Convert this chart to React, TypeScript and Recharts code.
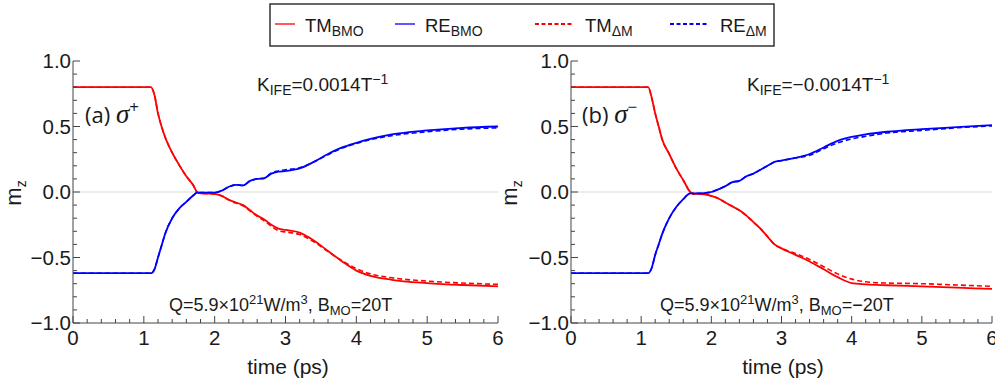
import React from 'react';
import { LineChart, Line, XAxis, YAxis, ReferenceLine } from 'recharts';

const time = [0, 1.0, 1.1, 1.15, 1.2, 1.25, 1.3, 1.4, 1.5, 1.6, 1.7, 1.75, 1.8, 1.9, 2.0, 2.1, 2.2, 2.3, 2.4, 2.5, 2.6, 2.7, 2.8, 2.9, 3.0, 3.2, 3.4, 3.6, 3.8, 4.0, 4.2, 4.5, 5.0, 5.5, 6.0];

// panel (a) sigma+
const aTM_BMO = [0.8, 0.8, 0.8, 0.74, 0.6, 0.5, 0.42, 0.3, 0.205, 0.12, 0.05, 0.0, -0.01, -0.012, -0.015, -0.03, -0.06, -0.08, -0.1, -0.14, -0.18, -0.21, -0.25, -0.28, -0.29, -0.31, -0.37, -0.45, -0.53, -0.6, -0.64, -0.67, -0.695, -0.71, -0.72];
const aTM_dM = [0.8, 0.8, 0.8, 0.74, 0.6, 0.5, 0.42, 0.3, 0.205, 0.12, 0.05, 0.0, -0.01, -0.012, -0.015, -0.03, -0.06, -0.085, -0.105, -0.145, -0.185, -0.22, -0.26, -0.295, -0.305, -0.325, -0.38, -0.455, -0.525, -0.585, -0.625, -0.655, -0.68, -0.695, -0.705];
const aRE_BMO = [-0.62, -0.62, -0.62, -0.59, -0.5, -0.41, -0.32, -0.2, -0.125, -0.075, -0.025, -0.005, -0.005, -0.005, -0.005, 0.01, 0.04, 0.055, 0.05, 0.085, 0.1, 0.105, 0.14, 0.155, 0.16, 0.18, 0.23, 0.29, 0.34, 0.375, 0.405, 0.44, 0.47, 0.49, 0.5];
const aRE_dM = [-0.62, -0.62, -0.62, -0.59, -0.5, -0.41, -0.32, -0.2, -0.125, -0.075, -0.025, -0.005, -0.005, -0.005, -0.005, 0.01, 0.04, 0.055, 0.05, 0.085, 0.1, 0.105, 0.145, 0.16, 0.17, 0.185, 0.23, 0.285, 0.335, 0.37, 0.4, 0.43, 0.46, 0.48, 0.49];

// panel (b) sigma-
const bTM_BMO = [0.8, 0.8, 0.8, 0.72, 0.6, 0.5, 0.4, 0.29, 0.18, 0.09, 0.0, -0.015, -0.015, -0.018, -0.03, -0.05, -0.08, -0.11, -0.14, -0.18, -0.23, -0.28, -0.34, -0.4, -0.43, -0.48, -0.53, -0.59, -0.65, -0.695, -0.705, -0.712, -0.72, -0.73, -0.74];
const bTM_dM = [0.8, 0.8, 0.8, 0.72, 0.6, 0.5, 0.4, 0.29, 0.18, 0.09, 0.0, -0.015, -0.015, -0.018, -0.03, -0.05, -0.08, -0.11, -0.14, -0.18, -0.23, -0.28, -0.34, -0.4, -0.43, -0.47, -0.515, -0.57, -0.625, -0.665, -0.685, -0.695, -0.7, -0.71, -0.72];
const bRE_BMO = [-0.62, -0.62, -0.62, -0.58, -0.48, -0.4, -0.32, -0.2, -0.115, -0.055, -0.01, -0.01, -0.01, -0.008, 0.0, 0.02, 0.045, 0.075, 0.085, 0.12, 0.14, 0.17, 0.2, 0.23, 0.24, 0.26, 0.29, 0.34, 0.39, 0.42, 0.44, 0.46, 0.48, 0.495, 0.51];
const bRE_dM = [-0.62, -0.62, -0.62, -0.58, -0.48, -0.4, -0.32, -0.2, -0.115, -0.055, -0.01, -0.01, -0.01, -0.008, 0.0, 0.02, 0.045, 0.075, 0.085, 0.12, 0.14, 0.17, 0.2, 0.23, 0.24, 0.26, 0.28, 0.33, 0.375, 0.405, 0.425, 0.45, 0.47, 0.49, 0.505];

const xTicks = Array.from({ length: 31 }, (_, i) => Math.round(i * 2) / 10);
const yTicks = Array.from({ length: 21 }, (_, i) => Math.round((i - 10)) / 10);

const legendItems = [
  { name: 'TM', sub: 'BMO', color: '#ff0000', dashed: false },
  { name: 'RE', sub: 'BMO', color: '#0000ff', dashed: false },
  { name: 'TM', sub: 'ΔM', color: '#ff0000', dashed: true },
  { name: 'RE', sub: 'ΔM', color: '#0000ff', dashed: true },
];

const FONT = '"Liberation Sans", Arial, sans-serif';
const FRAME = '#444';
const TEXT = '#1a1a1a';

const build = (tm: number[], re: number[], tm2: number[], re2: number[]) =>
  time.map((t, i) => ({ t, tmB: tm[i], reB: re[i], tmD: tm2[i], reD: re2[i] }));

const dataA = build(aTM_BMO, aRE_BMO, aTM_dM, aRE_dM);
const dataB = build(bTM_BMO, bRE_BMO, bTM_dM, bRE_dM);

const isMajorX = (v: number) => Math.abs(v - Math.round(v)) < 1e-6;
const isMajorY = (v: number) => Math.abs(v * 2 - Math.round(v * 2)) < 1e-6;
const fmtY = (v: number) => v.toFixed(1).replace('-', '\u2212');

const BottomTick = (p: any) => {
  const v = p.payload.value;
  const major = isMajorX(v);
  return (
    <g>
      <line x1={p.x} x2={p.x} y1={p.y} y2={p.y - (major ? 7 : 4)} stroke={FRAME} strokeWidth={1} />
      {major && (
        <text x={p.x} y={p.y + 22} textAnchor="middle" fontSize={20.5} fontFamily={FONT} fill={TEXT}>
          {Math.round(v)}
        </text>
      )}
    </g>
  );
};
const TopTick = (p: any) => {
  const major = isMajorX(p.payload.value);
  return <line x1={p.x} x2={p.x} y1={p.y} y2={p.y + (major ? 7 : 4)} stroke={FRAME} strokeWidth={1} />;
};
const LeftTick = (p: any) => {
  const v = p.payload.value;
  const major = isMajorY(v);
  return (
    <g>
      <line x1={p.x} x2={p.x + (major ? 7 : 4)} y1={p.y} y2={p.y} stroke={FRAME} strokeWidth={1} />
      {major && (
        <text x={p.x - 2} y={p.y + 7} textAnchor="end" fontSize={20.5} fontFamily={FONT} fill={TEXT}>
          {fmtY(v)}
        </text>
      )}
    </g>
  );
};
const RightTick = (p: any) => {
  const major = isMajorY(p.payload.value);
  return <line x1={p.x} x2={p.x - (major ? 7 : 4)} y1={p.y} y2={p.y} stroke={FRAME} strokeWidth={1} />;
};

const Panel = ({ data, width, right }: { data: any[]; width: number; right: number }) => (
  <LineChart width={width} height={383} data={data} margin={{ top: 61, right, bottom: 0, left: 0 }}>
    <XAxis xAxisId="b" dataKey="t" type="number" domain={[0, 6]} allowDataOverflow ticks={xTicks} interval={0}
      height={60} tickLine={false} tickSize={0} tickMargin={0} axisLine={{ stroke: FRAME }} tick={(p: any) => <BottomTick {...p} />} />
    <XAxis xAxisId="t" orientation="top" dataKey="t" type="number" domain={[0, 6]} allowDataOverflow ticks={xTicks} interval={0}
      height={0} tickLine={false} tickSize={0} tickMargin={0} axisLine={{ stroke: FRAME }} tick={(p: any) => <TopTick {...p} />} />
    <YAxis yAxisId="l" type="number" domain={[-1, 1]} allowDataOverflow ticks={yTicks} interval={0}
      width={73} tickLine={false} tickSize={0} tickMargin={0} axisLine={{ stroke: FRAME }} tick={(p: any) => <LeftTick {...p} />} />
    <YAxis yAxisId="r" orientation="right" type="number" domain={[-1, 1]} allowDataOverflow ticks={yTicks} interval={0}
      width={0} tickLine={false} tickSize={0} tickMargin={0} axisLine={{ stroke: FRAME }} tick={(p: any) => <RightTick {...p} />} />
    <ReferenceLine xAxisId="b" yAxisId="l" y={0} stroke="#e6e6e6" strokeWidth={1.5} />
    <Line xAxisId="t" yAxisId="r" type="monotone" dataKey="tmD" stroke="#ff0000" strokeWidth={1.6} strokeDasharray="5 3" dot={false} isAnimationActive={false} />
    <Line xAxisId="t" yAxisId="r" type="monotone" dataKey="reD" stroke="#0000ff" strokeWidth={1.6} strokeDasharray="5 3" dot={false} isAnimationActive={false} />
    <Line xAxisId="b" yAxisId="l" type="monotone" dataKey="tmB" stroke="#ff0000" strokeWidth={1.8} dot={false} isAnimationActive={false} />
    <Line xAxisId="b" yAxisId="l" type="monotone" dataKey="reB" stroke="#0000ff" strokeWidth={1.8} dot={false} isAnimationActive={false} />
  </LineChart>
);

const legendX = [5, 125, 265, 400];
const Legend = () => (
  <svg width={506} height={44} style={{ position: 'absolute', left: 269, top: 3 }}>
    <rect x={1} y={1} width={504} height={42} fill="#fff" stroke="#333" strokeWidth={1.5} />
    {legendItems.map((it, i) => {
      const x0 = legendX[i];
      const len = it.dashed ? 37 : 20;
      return (
        <g key={i}>
          <line x1={x0 + 1} x2={x0 + 1 + len} y1={21} y2={21} stroke={it.color} strokeWidth={it.dashed ? 2 : 1.3}
            strokeDasharray={it.dashed ? '4 2.5' : undefined} />
          <text x={x0 + len + (it.dashed ? 14 : 11)} y={29} fontSize={18.5} fontFamily={FONT} fill={TEXT}>
            {it.name}
            <tspan fontSize={14} dy={4}>{it.sub}</tspan>
          </text>
        </g>
      );
    })}
  </svg>
);

const Annotations = () => (
  <svg width={995} height={383} style={{ position: 'absolute', left: 0, top: 0, pointerEvents: 'none' }} fontFamily={FONT} fill={TEXT}>
    <text x={257} y={91} fontSize={19}>K<tspan fontSize={14} dy={4}>IFE</tspan><tspan dy={-4}>=0.0014T</tspan><tspan fontSize={14} dy={-7}>−1</tspan></text>
    <text x={747} y={91} fontSize={19}>K<tspan fontSize={14} dy={4}>IFE</tspan><tspan dy={-4}>=−0.0014T</tspan><tspan fontSize={14} dy={-7}>−1</tspan></text>
    <text x={85} y={123} fontSize={22} fontFamily='"Open Sans", sans-serif'>(a) <tspan fontFamily='"Liberation Serif", serif' fontStyle="italic" fontSize={27}>σ</tspan><tspan fontSize={17} dy={-10}>+</tspan></text>
    <text x={582} y={123} fontSize={22} fontFamily='"Open Sans", sans-serif'>(b) <tspan fontFamily='"Liberation Serif", serif' fontStyle="italic" fontSize={27}>σ</tspan><tspan fontSize={17} dy={-10}>−</tspan></text>
    <text x={169} y={311} fontSize={18}>Q=5.9×10<tspan fontSize={13} dy={-7}>21</tspan><tspan dy={7}>W/m</tspan><tspan fontSize={13} dy={-7}>3</tspan><tspan dy={7}>, B</tspan><tspan fontSize={13} dy={4}>MO</tspan><tspan dy={-4}>=20T</tspan></text>
    <text x={660} y={311} fontSize={18}>Q=5.9×10<tspan fontSize={13} dy={-7}>21</tspan><tspan dy={7}>W/m</tspan><tspan fontSize={13} dy={-7}>3</tspan><tspan dy={7}>, B</tspan><tspan fontSize={13} dy={4}>MO</tspan><tspan dy={-4}>=−20T</tspan></text>
    <text x={288} y={374} fontSize={21} textAnchor="middle">time (ps)</text>
    <text x={783} y={374} fontSize={21} textAnchor="middle">time (ps)</text>
    <text transform="translate(21,193) rotate(-90)" fontSize={22} textAnchor="middle">m<tspan fontSize={14} dy={5}>z</tspan></text>
    <text transform="translate(517,193) rotate(-90)" fontSize={22} textAnchor="middle">m<tspan fontSize={14} dy={5}>z</tspan></text>
  </svg>
);

export default function App() {
  return (
    <div style={{ position: 'absolute', left: 0, top: 0, width: 995, height: 383, background: '#fff', overflow: 'hidden' }}>
      <div style={{ position: 'absolute', left: 0, top: 0 }}>
        <Panel data={dataA} width={512} right={14} />
      </div>
      <div style={{ position: 'absolute', left: 498, top: 0 }}>
        <Panel data={dataB} width={497} right={3} />
      </div>
      <Legend />
      <Annotations />
    </div>
  );
}
